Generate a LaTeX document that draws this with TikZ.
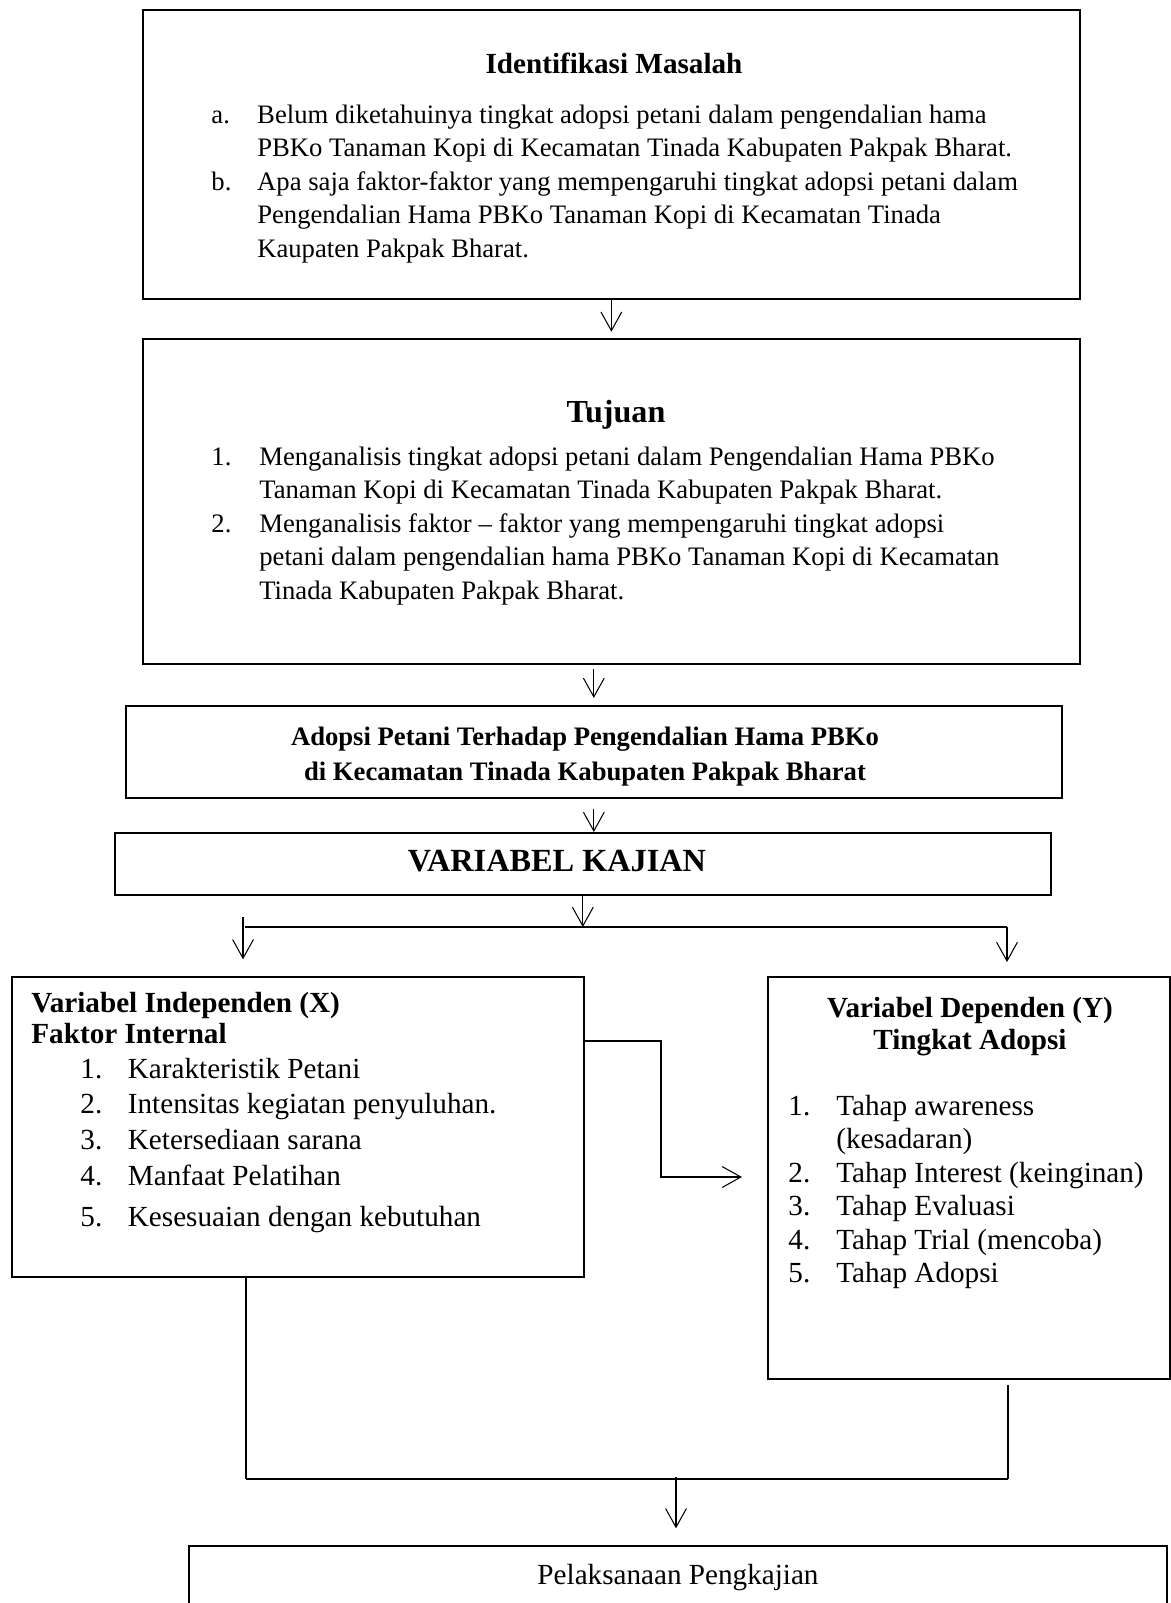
\documentclass[tikz,border=0pt]{standalone}
\usepackage{fontspec}
\setmainfont{Liberation Serif}
\usetikzlibrary{arrows.meta}

\begin{document}
\begin{tikzpicture}[
      x=0.48pt, y=-0.48pt,
      box/.style={draw, line width=0.8pt, inner sep=0pt, anchor=north west},
      arr/.style={-{Straight Barb[length=9pt, width=10pt]}, line width=0.5pt},
      link/.style={line width=0.8pt},
      bar/.style={line width=1.2pt},
      txt/.style={inner sep=0pt, anchor=base west},
      ttl/.style={inner sep=0pt, anchor=base, font=\bfseries\fontsize{14}{16}\selectfont}
    ]
      \useasboundingbox (0,0) rectangle (1170,1603);

      % Boxes
      \node[box, minimum width=937*0.48pt, minimum height=289*0.48pt] (idbox) at (142,9) {};
      \node[box, minimum width=937*0.48pt, minimum height=325*0.48pt] (tujbox) at (142,338) {};
      \node[box, minimum width=936*0.48pt, minimum height=92*0.48pt] (adopbox) at (125,705) {};
      \node[box, minimum width=936*0.48pt, minimum height=62*0.48pt] (varbox) at (114,832) {};
      \node[box, minimum width=572*0.48pt, minimum height=300*0.48pt] (indbox) at (11,976) {};
      \node[box, minimum width=402*0.48pt, minimum height=402*0.48pt] (depbox) at (767,976) {};
      \node[box, minimum width=978*0.48pt, minimum height=90*0.48pt] (pelbox) at (188,1545) {};

      % Identifikasi Masalah
      \node[ttl] (idttl) at (614,73) {Identifikasi Masalah};
      \node[txt, font=\fontsize{12.8}{16.1}\selectfont] (idlist) at (211,123) {\begin{tabular}[t]{@{}p{22pt}@{}l@{}}
        a. & Belum diketahuinya tingkat adopsi petani dalam pengendalian hama\\
           & PBKo Tanaman Kopi di Kecamatan Tinada Kabupaten Pakpak Bharat.\\
        b. & Apa saja faktor-faktor yang mempengaruhi tingkat adopsi petani dalam\\
           & Pengendalian Hama PBKo Tanaman Kopi di Kecamatan Tinada\\
           & Kaupaten Pakpak Bharat.
      \end{tabular}};

      % Tujuan
      \node[ttl, font=\bfseries\fontsize{15.4}{17}\selectfont] (tujttl) at (616,422) {Tujuan};
      \node[txt, font=\fontsize{12.8}{16.1}\selectfont] (tujlist) at (211,465) {\begin{tabular}[t]{@{}p{23pt}@{}l@{}}
        1. & Menganalisis tingkat adopsi petani dalam Pengendalian Hama PBKo\\
           & Tanaman Kopi di Kecamatan Tinada Kabupaten Pakpak Bharat.\\
        2. & Menganalisis faktor -- faktor yang  mempengaruhi  tingkat  adopsi\\
           & petani dalam pengendalian hama PBKo Tanaman Kopi di Kecamatan\\
           & Tinada Kabupaten Pakpak Bharat.
      \end{tabular}};

      % Adopsi
      \node[txt, anchor=base, font=\bfseries\fontsize{12.8}{16.8}\selectfont] (adoptxt) at (585,745) {\begin{tabular}[t]{@{}c@{}}
        Adopsi Petani Terhadap Pengendalian Hama PBKo\\
        di Kecamatan Tinada Kabupaten Pakpak Bharat
      \end{tabular}};

      % Variabel kajian
      \node[ttl, font=\bfseries\fontsize{15.5}{18}\selectfont] (varttl) at (557,871) {VARIABEL KAJIAN};

      % Variabel independen
      \node[txt, font=\bfseries\fontsize{14}{14.9}\selectfont] (indttl) at (31,1012) {\begin{tabular}[t]{@{}l@{}}
        Variabel Independen (X)\\
        Faktor Internal
      \end{tabular}};
      \node[txt, font=\fontsize{14}{17.2}\selectfont] (indlist) at (80,1078) {\begin{tabular}[t]{@{}p{22.8pt}@{}l@{}}
        1. & Karakteristik Petani\\
        2. & Intensitas kegiatan penyuluhan.\\
        3. & Ketersediaan sarana\\
        4. & Manfaat Pelatihan\\[2.5pt]
        5. & Kesesuaian dengan kebutuhan
      \end{tabular}};

      % Variabel dependen
      \node[txt, anchor=base, font=\bfseries\fontsize{14}{15.8}\selectfont] (depttl) at (970,1017) {\begin{tabular}[t]{@{}c@{}}
        Variabel Dependen (Y)\\
        Tingkat Adopsi
      \end{tabular}};
      \node[txt, font=\fontsize{14}{16.1}\selectfont] (deplist) at (788,1115) {\begin{tabular}[t]{@{}p{23pt}@{}l@{}}
        1. & Tahap awareness\\
           & (kesadaran)\\
        2. & Tahap Interest (keinginan)\\
        3. & Tahap Evaluasi\\
        4. & Tahap Trial (mencoba)\\
        5. & Tahap Adopsi
      \end{tabular}};

      % Pelaksanaan
      \node[inner sep=0pt, anchor=base, font=\fontsize{14}{16}\selectfont] (peltxt) at (678,1584) {Pelaksanaan Pengkajian};

      % Helper points
      \coordinate (splitL) at (245,927);
      \coordinate (splitR) at (1007,927);
      \coordinate (inTop) at (243,917);
      \coordinate (kneeA) at (661,1041);
      \coordinate (kneeB) at (661,1177);
      \coordinate (depfoot) at (1008,1385);
      \coordinate (joinL) at (246,1479);
      \coordinate (joinR) at (1008,1479);
      \coordinate (joinM) at (676,1477);

      % Arrows down the column
      \draw[arr, shorten >=3pt] (idbox.south) -- (tujbox.north);
      \draw[arr, shorten <=2pt, shorten >=3.4pt] (adopbox.north |- tujbox.south) -- (adopbox.north);
      \draw[arr, shorten <=4.8pt] (adopbox.south) -- (adopbox.south |- varbox.north);
      \draw[arr] (varbox.south) -- (varbox.south |- splitL);

      % Split to X and Y
      \draw[bar] (splitL) -- (splitR);
      \draw[arr, shorten >=8pt] (inTop) -- (inTop |- indbox.north);
      \draw[arr, shorten >=6.7pt] (splitR) -- (splitR |- depbox.north);

      % X to Y
      \draw[arr, shorten >=12pt] (kneeA -| indbox.east) -- (kneeA) -- (kneeB) -- (kneeB -| depbox.west);

      % Join to Pelaksanaan
      \draw[link] (indbox.south -| joinL) -- (joinL);
      \draw[link] (depfoot) -- (joinR);
      \draw[bar] (joinL) -- (joinR);
      \draw[arr, shorten >=8pt] (joinM) -- (joinM |- pelbox.north);
    \end{tikzpicture}
\end{document}
